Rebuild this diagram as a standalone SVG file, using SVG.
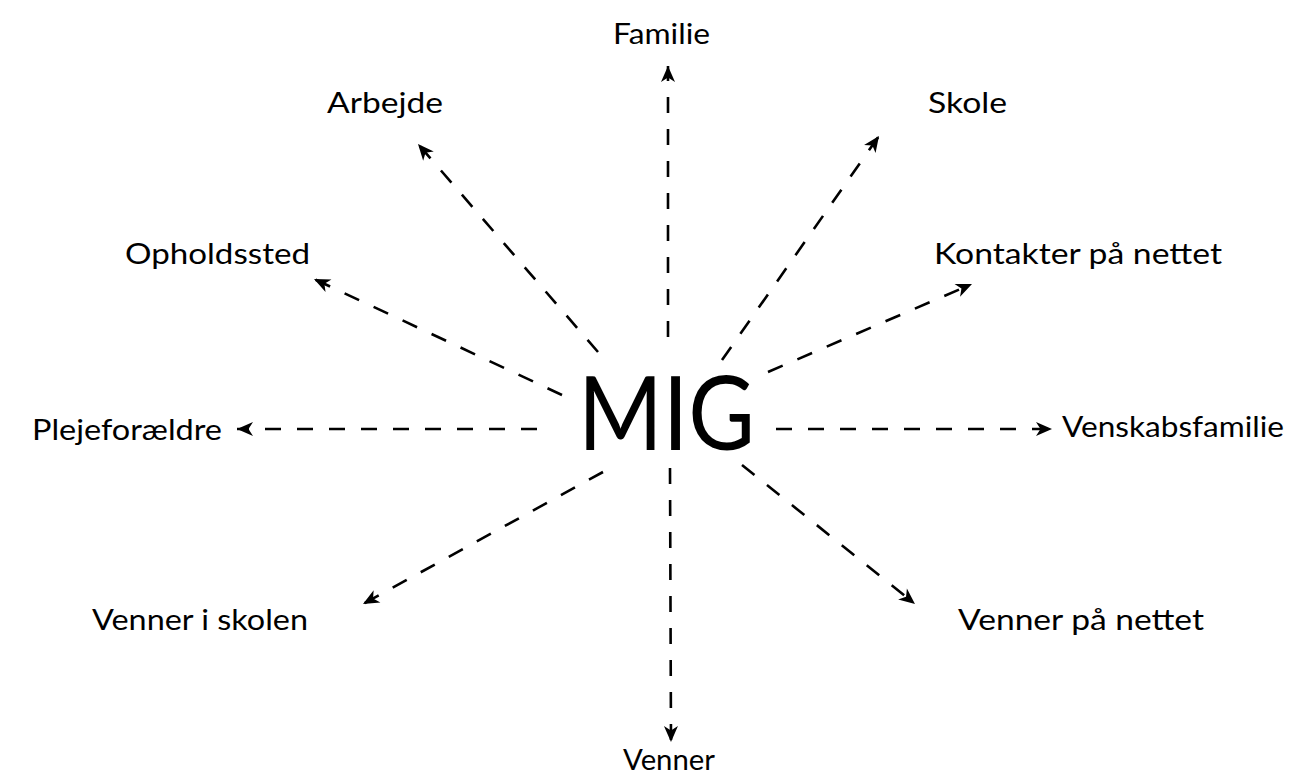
<svg xmlns="http://www.w3.org/2000/svg" width="1290" height="782" viewBox="0 0 1290 782">
<style>
.lbl{font-family:"Lato","Open Sans","Liberation Sans",sans-serif;font-size:29px;fill:#000}
.mig{font-family:"Lato","Open Sans","Liberation Sans",sans-serif;font-size:103px;fill:#000}
.c{stroke:#000;stroke-width:2.6;fill:none;stroke-dasharray:16 16;marker-end:url(#ah)}
</style>
<defs>
<marker id="ah" markerUnits="userSpaceOnUse" viewBox="-1 -8 18 16" refX="16" refY="0" markerWidth="18" markerHeight="16" orient="auto">
<path d="M0,-7 L16,0 L0,7 L4.5,0 z" fill="#000"/>
</marker>
</defs>
<rect width="1290" height="782" fill="#fff"/>
<g id="connectors">
<line class="c" x1="668" y1="337" x2="668" y2="66"/>
<line class="c" x1="670" y1="468" x2="671" y2="742"/>
<line class="c" x1="537" y1="429" x2="237" y2="429"/>
<line class="c" x1="776" y1="429" x2="1052" y2="429"/>
<line class="c" x1="598" y1="352" x2="418" y2="144"/>
<line class="c" x1="722" y1="360" x2="879" y2="136"/>
<line class="c" x1="562" y1="395" x2="314" y2="279"/>
<line class="c" x1="768" y1="372" x2="972" y2="284"/>
<line class="c" x1="603" y1="472" x2="363" y2="604"/>
<line class="c" x1="742" y1="465" x2="915" y2="604"/>
</g>
<g id="node-mig"><text class="mig" x="578" y="450" textLength="177" lengthAdjust="spacingAndGlyphs">MIG</text></g>
<g id="node-familie"><text class="lbl" x="613" y="44" textLength="97" lengthAdjust="spacingAndGlyphs">Familie</text></g>
<g id="node-arbejde"><text class="lbl" x="327" y="113" textLength="116" lengthAdjust="spacingAndGlyphs">Arbejde</text></g>
<g id="node-skole"><text class="lbl" x="928" y="113" textLength="79" lengthAdjust="spacingAndGlyphs">Skole</text></g>
<g id="node-opholdssted"><text class="lbl" x="125" y="264" textLength="185" lengthAdjust="spacingAndGlyphs">Opholdssted</text></g>
<g id="node-kontakter"><text class="lbl" x="934" y="264" textLength="288" lengthAdjust="spacingAndGlyphs">Kontakter på nettet</text></g>
<g id="node-plejeforaeldre"><text class="lbl" x="32" y="440" textLength="190" lengthAdjust="spacingAndGlyphs">Plejeforældre</text></g>
<g id="node-venskabsfamilie"><text class="lbl" x="1062" y="437" textLength="222" lengthAdjust="spacingAndGlyphs">Venskabsfamilie</text></g>
<g id="node-venner-skolen"><text class="lbl" x="92" y="630" textLength="216" lengthAdjust="spacingAndGlyphs">Venner i skolen</text></g>
<g id="node-venner-nettet"><text class="lbl" x="958" y="630" textLength="246" lengthAdjust="spacingAndGlyphs">Venner på nettet</text></g>
<g id="node-venner"><text class="lbl" x="623" y="770" textLength="92" lengthAdjust="spacingAndGlyphs">Venner</text></g>
</svg>
